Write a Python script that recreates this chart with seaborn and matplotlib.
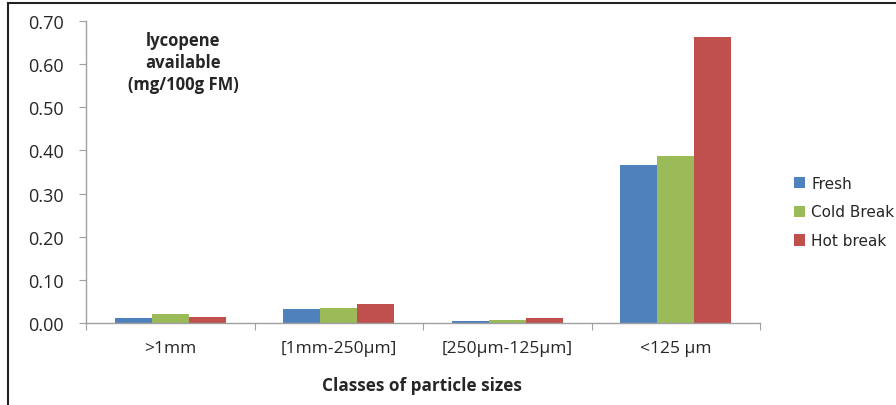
import numpy as np
import pandas as pd
import seaborn as sns
import matplotlib.pyplot as plt
import matplotlib.transforms as mtransforms
from matplotlib.patches import Rectangle

categories = [">1mm", "[1mm-250\u00b5m]", "[250\u00b5m-125\u00b5m]", "<125 \u00b5m"]
fresh = [0.012, 0.032, 0.005, 0.367]
cold_break = [0.020, 0.034, 0.006, 0.387]
hot_break = [0.013, 0.044, 0.011, 0.664]
series = ["Fresh", "Cold Break", "Hot break"]
colors = ["#4F81BD", "#9BBB59", "#C0504D"]

df = pd.DataFrame({
    "size": categories * 3,
    "treatment": np.repeat(series, len(categories)),
    "value": fresh + cold_break + hot_break,
})

sns.set_style("white")
plt.rcParams['font.family'] = ['Open Sans', 'DejaVu Sans']

fig = plt.figure(figsize=(8.96, 4.06), dpi=100)
ax = fig.add_axes([86/896, 1 - 324/406, (760 - 86)/896, (324 - 22)/406])

sns.barplot(data=df, x="size", y="value", hue="treatment", palette=colors,
            width=0.66, ax=ax, saturation=1, errorbar=None, edgecolor="none")

ax.set_ylim(0, 0.70)
ax.set_xlim(-0.5, 3.5)
yticks = np.arange(0, 0.71, 0.10)
ax.set_yticks(yticks)
ax.set_yticklabels([f"{v:.2f}" for v in yticks], fontsize=13)
# ticks sit between the groups, like in excel
ax.set_xticks([-0.5, 0.5, 1.5, 2.5, 3.5])
ax.set_xticklabels([])
ax.tick_params(axis="both", which="major", length=5, color="#A0A0A0", direction="out",
               bottom=True, left=True)
ax.tick_params(axis="y", pad=11)

# category names centred under each group
trans = mtransforms.blended_transform_factory(ax.transData, fig.transFigure)
for i, c in enumerate(categories):
    ax.text(i, 1 - 349/406, c, ha="center", va="center", fontsize=12.5, transform=trans)

for s in ["top", "right"]:
    ax.spines[s].set_visible(False)
for s in ["left", "bottom"]:
    ax.spines[s].set_color("#A0A0A0")
    ax.spines[s].set_linewidth(1)

ax.set_xlabel("")
ax.set_ylabel("")
fig.text(422/896, 1 - 386/406, "Classes of particle sizes",
         ha="center", va="center", fontsize=12.3, fontweight="bold")
fig.text(183/896, 1 - 63/406, "lycopene\navailable\n(mg/100g FM)", ha="center", va="center",
         fontsize=12, fontweight="bold", linespacing=1.3)

ax.legend(loc="center left", bbox_to_anchor=(780/896, 1 - 213/406),
          bbox_transform=fig.transFigure, frameon=False,
          handlelength=0.75, handleheight=0.75, handletextpad=0.4, labelspacing=0.9,
          prop={'family': 'DejaVu Sans', 'size': 11})

# outer frame, cut off at the right and bottom
fig.add_artist(Rectangle((8/896, -0.1), 1.2, 1 - 4/406 + 0.1, transform=fig.transFigure,
                         fill=False, edgecolor="#222222", linewidth=1.5))

fig.savefig("out.png", dpi=100)
